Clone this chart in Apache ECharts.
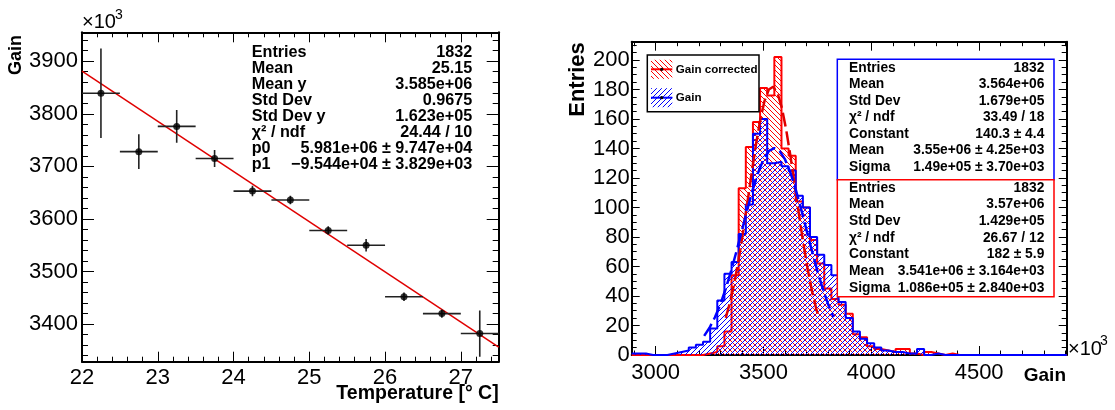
<!DOCTYPE html>
<html><head><meta charset="utf-8">
<script src="https://cdn.jsdelivr.net/npm/echarts@6/dist/echarts.min.js"></script>
<style>html,body{margin:0;padding:0;background:#fff}#c{width:1115px;height:410px}</style>
</head><body><div id="c"></div>
<script>
// ---------------- Left panel: Gain vs Temperature (x10^3) ----------------
const tempX      = [22.25, 22.75, 23.25, 23.75, 24.25, 24.75, 25.25, 25.75, 26.25, 26.75, 27.25];
const tempErr    = [0.25, 0.25, 0.25, 0.25, 0.25, 0.25, 0.25, 0.25, 0.25, 0.25, 0.25];
const gainY      = [3839, 3728, 3776, 3715, 3653, 3636, 3578, 3550, 3452, 3420, 3382];
const gainErr    = [85, 33, 31, 16, 10, 8, 8, 12, 8, 8, 44];
const fitLineX   = [22, 27.5];
const fitLineY   = [3881, 3356];
const leftXTicks = [22, 23, 24, 25, 26, 27];
const leftYTicks = [3400, 3500, 3600, 3700, 3800, 3900];

// ---------------- Right panel: Gain histograms (x10^3) ----------------
const binStart = 2889;
const binWidth = 33.07;
const gainCorrectedCounts = [0,0,0,0,0,0,0,0,0,0, 1,2,6,16,54,113,141,158,181,176, 202,140,135,104,100,78,62,45,38,34, 28,14,12,6,4,3,2,4,4,1, 0,2,1,0,1,0,0,0,0,0, 0,0,0,0,0,0,0,0,0,0, 0];
const gainCounts          = [1,1,0,0,0,1,2,3,5,7, 9,18,37,55,63,82,102,150,160,130, 131,128,125,108,100,80,68,61,54,36, 25,16,11,8,5,3,2,2,1,1, 4,0,1,0,0,0,0,0,0,0, 0,0,0,0,0,0,0,0,0,0, 0];
const fitGainX  = [3225,3250,3275,3300,3325,3350,3375,3400,3425,3450,3475,3500,3525,3550,3575,3600,3625,3650,3675,3700,3725,3750,3775,3800,3825];
const fitGainY  = [13.0,18.5,25.6,34.3,44.9,57.0,70.4,84.5,98.7,112.0,123.6,132.6,138.3,140.3,138.3,132.6,123.6,112.0,98.7,84.5,70.4,57.0,44.9,34.3,25.6];
const fitCorrX  = [3325,3345,3365,3385,3405,3425,3445,3465,3485,3505,3525,3545,3565,3585,3605,3625,3645,3665,3685,3705,3725,3745,3757];
const fitCorrY  = [25.2,35.7,49.0,64.9,83.1,102.9,123.1,142.5,159.3,172.3,180.0,181.9,177.6,167.7,153.0,135.0,115.1,94.8,75.6,58.2,43.3,31.2,25.2];
const rightXTicks = [3000, 3500, 4000, 4500];
const rightYTicks = [0, 20, 40, 60, 80, 100, 120, 140, 160, 180, 200];

const statsLeft = [
  ['Entries', '1832'], ['Mean', '25.15'], ['Mean y', '3.585e+06'], ['Std Dev', '0.9675'],
  ['Std Dev y', '1.623e+05'], ['\u03c7\u00b2 / ndf', '24.44 / 10'],
  ['p0', '5.981e+06 \u00b1 9.747e+04'], ['p1', '\u22129.544e+04 \u00b1 3.829e+03']
];
const statsGain = [
  ['Entries', '1832'], ['Mean', '3.564e+06'], ['Std Dev', '1.679e+05'], ['\u03c7\u00b2 / ndf', '33.49 / 18'],
  ['Constant', '140.3 \u00b1 4.4'], ['Mean', '3.55e+06 \u00b1 4.25e+03'], ['Sigma', '1.49e+05 \u00b1 3.70e+03']
];
const statsCorr = [
  ['Entries', '1832'], ['Mean', '3.57e+06'], ['Std Dev', '1.429e+05'], ['\u03c7\u00b2 / ndf', '26.67 / 12'],
  ['Constant', '182 \u00b1 5.9'], ['Mean', '3.541e+06 \u00b1 3.164e+03'], ['Sigma', '1.086e+05 \u00b1 2.840e+03']
];

// ---------------- helpers ----------------
const FONT = '"Liberation Sans", Arial, Helvetica, sans-serif';
function range(a, b, step, skip) {
  const out = [];
  for (let v = a; v <= b + 1e-9; v += step) {
    const r = Math.round(v * 1000) / 1000;
    if (!skip || Math.abs(r / skip - Math.round(r / skip)) > 1e-6) out.push(r);
  }
  return out;
}
function hatch(color, dir, size) {
  const c = document.createElement('canvas');
  c.width = size; c.height = size;
  const ctx = c.getContext('2d');
  ctx.strokeStyle = color; ctx.lineWidth = 1;
  ctx.beginPath();
  if (dir > 0) { // '/'
    ctx.moveTo(-1, size + 1); ctx.lineTo(size + 1, -1);
    ctx.moveTo(-1, 1); ctx.lineTo(1, -1);
    ctx.moveTo(size - 1, size + 1); ctx.lineTo(size + 1, size - 1);
  } else {       // '\'
    ctx.moveTo(-1, -1); ctx.lineTo(size + 1, size + 1);
    ctx.moveTo(size - 1, -1); ctx.lineTo(size + 1, 1);
    ctx.moveTo(-1, size - 1); ctx.lineTo(1, size + 1);
  }
  ctx.stroke();
  return c;
}
const redHatch  = { image: hatch('#ff0000', -1, 5), repeat: 'repeat' };
const blueHatch = { image: hatch('#0000ff', 1, 5), repeat: 'repeat' };

function axisSet(gridIndex, min, max, majors, minors, posA, posB, majLen, minLen, labelCfg) {
  const line = { show: true, onZero: false, lineStyle: { color: '#000', width: 2 } };
  const noLine = { show: false, onZero: false };
  const tk = (vals, len) => ({ show: true, inside: true, length: len, customValues: vals, lineStyle: { color: '#000', width: 1 } });
  const base = { type: 'value', gridIndex, min, max, splitLine: { show: false }, axisLabel: { show: false } };
  return [
    Object.assign({}, base, { position: posA, axisLine: line, axisTick: tk(majors, majLen),
      axisLabel: Object.assign({ show: true, customValues: majors, color: '#000', fontFamily: FONT,
        formatter: v => String(v) }, labelCfg) }),
    Object.assign({}, base, { position: posA, axisLine: noLine, axisTick: tk(minors, minLen) }),
    Object.assign({}, base, { position: posB, axisLine: line, axisTick: tk(majors, majLen) }),
    Object.assign({}, base, { position: posB, axisLine: noLine, axisTick: tk(minors, minLen) })
  ];
}
function histPoints(counts) {
  const pts = [];
  for (let i = 0; i < counts.length; i++) pts.push([binStart + i * binWidth, counts[i]]);
  pts.push([binStart + counts.length * binWidth, counts[counts.length - 1]]);
  return pts;
}
function zip(a, b) { return a.map((v, i) => [v, b[i]]); }

const xAxes = []
  .concat(axisSet(0, 22, 27.5, leftXTicks, range(22, 27.5, 0.2, 1), 'bottom', 'top', 10, 5, { fontSize: 22, margin: 5 }))
  .concat(axisSet(1, 2889, 4906, rightXTicks, range(2900, 4900, 100, 500), 'bottom', 'top', 9, 4.5, { fontSize: 22, margin: 7 }));
const yAxes = []
  .concat(axisSet(0, 3328.5, 3955, leftYTicks, range(3340, 3950, 20, 100), 'left', 'right', 12, 6, { fontSize: 22, margin: 4 }))
  .concat(axisSet(1, 0, 212.4, rightYTicks, range(0, 212, 5, 20), 'left', 'right', 8, 5, { fontSize: 22, margin: 2 }));

// ---------------- graphics (texts, boxes, legend) ----------------
const g = [];
function txt(x, y, text, size, opts) {
  g.push(Object.assign({ type: 'text', x, y, silent: true, z: 100,
    style: Object.assign({ text, font: (opts && opts.bold === false ? '' : 'bold ') + size + 'px ' + FONT,
      fill: '#000', align: 'left', verticalAlign: 'middle' }, opts && opts.style) }, opts && opts.el));
}
// left stats
statsLeft.forEach((r, i) => {
  const y = 53 + i * 15.9;
  txt(251.7, y, r[0], 16.2);
  txt(472.3, y, r[1], 16.2, { style: { align: 'right' } });
});
// right stats boxes
g.push({ type: 'rect', shape: { x: 837.3, y: 59.3, width: 216.7, height: 120.5 }, style: { fill: '#fff', stroke: '#0000ff', lineWidth: 1.5 }, z: 90 });
g.push({ type: 'rect', shape: { x: 837.3, y: 179.8, width: 216.7, height: 117 }, style: { fill: '#fff', stroke: '#ff0000', lineWidth: 1.5 }, z: 90 });
statsGain.forEach((r, i) => {
  const y = 67.7 + i * 16.5;
  txt(849, y, r[0], 13.8);
  txt(1044.3, y, r[1], 13.8, { style: { align: 'right' } });
});
statsCorr.forEach((r, i) => {
  const y = 187.7 + i * 16.67;
  txt(849, y, r[0], 13.8);
  txt(1044.3, y, r[1], 13.8, { style: { align: 'right' } });
});
// legend
g.push({ type: 'rect', shape: { x: 647.3, y: 55, width: 111.7, height: 56.7 }, style: { fill: '#fff', stroke: '#000', lineWidth: 1.5 }, z: 90 });
[[redHatch, '#ff0000', 69.3, 'Gain corrected'], [blueHatch, '#0000ff', 97.7, 'Gain']].forEach(e => {
  g.push({ type: 'rect', shape: { x: 651, y: e[2] - 9.5, width: 21.3, height: 19 }, style: { fill: e[0] }, z: 95, silent: true });
  g.push({ type: 'line', shape: { x1: 651, y1: e[2], x2: 672.3, y2: e[2] }, style: { stroke: e[1], lineWidth: 2 }, z: 96, silent: true });
  g.push({ type: 'circle', shape: { cx: 661.7, cy: e[2], r: 1.6 }, style: { fill: '#000' }, z: 97, silent: true });
  txt(675.7, e[2], e[3], 11.6);
});
// axis titles and exponents
txt(498.7, 393.3, 'Temperature [\u00b0 C]', 19.5, { style: { align: 'right' } });
txt(16.5, 55, 'Gain', 18, { el: { rotation: Math.PI / 2 }, style: { align: 'center' } });
txt(82, 22.2, '\u00d710', 20, { bold: false });
txt(115, 15.3, '3', 14, { bold: false });
txt(1066, 376, 'Gain', 19, { style: { align: 'right' } });
txt(578, 79.5, 'Entries', 22, { el: { rotation: Math.PI / 2 }, style: { align: 'center' } });
txt(1068, 349, '\u00d710', 20, { bold: false });
txt(1100, 341, '3', 14, { bold: false });

// ---------------- chart ----------------
const chart = echarts.init(document.getElementById('c'), null, { renderer: 'canvas', width: 1115, height: 410 });
chart.setOption({
  animation: false,
  backgroundColor: '#fff',
  grid: [
    { left: 82, right: 616.3, top: 32.3, bottom: 48.3 },
    { left: 631.7, right: 48.3, top: 41.7, bottom: 55 }
  ],
  xAxis: xAxes,
  yAxis: yAxes,
  series: [
    { type: 'line', xAxisIndex: 0, yAxisIndex: 0, data: zip(fitLineX, fitLineY), symbol: 'none',
      lineStyle: { color: '#e00000', width: 1.5 }, z: 3, silent: true },
    { type: 'custom', xAxisIndex: 0, yAxisIndex: 0, clip: true, z: 4, silent: true,
      data: tempX.map((x, i) => [x, gainY[i], tempErr[i], gainErr[i]]),
      renderItem: function (params, api) {
        const x = api.value(0), y = api.value(1), ex = api.value(2), ey = api.value(3);
        const a = api.coord([x - ex, y]), b = api.coord([x + ex, y]);
        const c = api.coord([x, y - ey]), d = api.coord([x, y + ey]);
        const st = { stroke: '#222', lineWidth: 1.6 };
        return { type: 'group', children: [
          { type: 'line', shape: { x1: a[0], y1: a[1], x2: b[0], y2: b[1] }, style: st },
          { type: 'line', shape: { x1: c[0], y1: c[1], x2: d[0], y2: d[1] }, style: st }
        ] };
      } },
    { type: 'scatter', xAxisIndex: 0, yAxisIndex: 0, data: zip(tempX, gainY), symbol: 'circle', symbolSize: 7,
      itemStyle: { color: '#000' }, z: 5, silent: true },

    { type: 'line', xAxisIndex: 4, yAxisIndex: 4, step: 'end', symbol: 'none', data: histPoints(gainCorrectedCounts),
      lineStyle: { color: '#ff0000', width: 2 }, areaStyle: { color: redHatch, opacity: 1 }, z: 2, silent: true },
    { type: 'line', xAxisIndex: 4, yAxisIndex: 4, step: 'end', symbol: 'none', data: histPoints(gainCounts),
      lineStyle: { color: '#0000ff', width: 2 }, areaStyle: { color: blueHatch, opacity: 1 }, z: 3, silent: true },
    { type: 'line', xAxisIndex: 4, yAxisIndex: 4, symbol: 'none', data: zip(fitCorrX, fitCorrY),
      lineStyle: { color: '#e00000', width: 2.5, type: [14, 5] }, z: 4, silent: true },
    { type: 'line', xAxisIndex: 4, yAxisIndex: 4, symbol: 'none', data: zip(fitGainX, fitGainY),
      lineStyle: { color: '#0000ff', width: 2.5, type: [14, 5] }, z: 5, silent: true }
  ],
  graphic: g
});
</script>
</body></html>
